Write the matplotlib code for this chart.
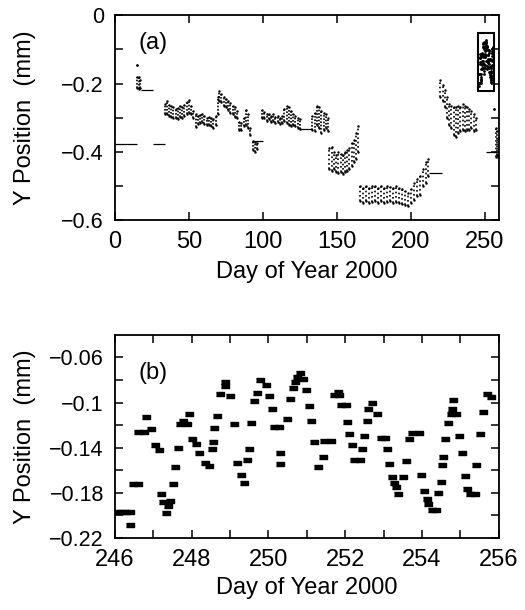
import numpy as np
import matplotlib
matplotlib.use('Agg')
import matplotlib.pyplot as plt
from matplotlib.patches import Rectangle
from matplotlib.ticker import MultipleLocator, FixedLocator

plt.rcParams['font.family'] = ['Liberation Sans', 'DejaVu Sans']
plt.rcParams['font.size'] = 17

# ---- panel (a): whole year, read as bands (day, upper edge, lower edge) ----
early_day = [15.2, 16.2, 17.2]
early_hi = [-0.180, -0.182, -0.190]
early_lo = [-0.212, -0.215, -0.213]
early_dot = (15.0, -0.146)

drift_day = [33.5, 35, 36.5, 38, 39.5, 41, 42.5, 44, 45.5, 47, 48.5, 50, 51.5, 53, 54.5,
             56, 57.5, 59, 60.5, 62, 63.5, 65, 66.5, 68, 69.5, 70.5, 72, 73.5, 75, 76.5,
             78, 79.5, 81, 82.5, 84, 85.5, 87, 88.5, 90, 91.5, 93, 94.5, 96,
             99.5, 101, 102.5, 104, 105.5, 107, 108.5, 110, 111.5, 113, 114.5, 116,
             117.5, 119, 120.5, 122, 123.5, 125,
             133.5, 135, 136.5, 138, 139.5, 141, 142.5, 144]
drift_hi = [-0.260, -0.250, -0.263, -0.265, -0.270, -0.275, -0.272, -0.265, -0.270, -0.262,
            -0.255, -0.248, -0.265, -0.280, -0.290, -0.295, -0.293, -0.290, -0.295, -0.300,
            -0.298, -0.300, -0.305, -0.295, -0.240, -0.222, -0.230, -0.238, -0.245, -0.250,
            -0.258, -0.265, -0.270, -0.280, -0.312, -0.315, -0.300, -0.278, -0.290, -0.330,
            -0.368, -0.370, -0.375,
            -0.278, -0.282, -0.290, -0.288, -0.295, -0.290, -0.298, -0.295, -0.300, -0.295,
            -0.275, -0.265, -0.270, -0.280, -0.290, -0.295, -0.300, -0.305,
            -0.295, -0.285, -0.265, -0.270, -0.280, -0.285, -0.290, -0.300]
drift_lo = [-0.290, -0.290, -0.295, -0.298, -0.300, -0.302, -0.305, -0.298, -0.300, -0.295,
            -0.290, -0.285, -0.290, -0.300, -0.327, -0.318, -0.315, -0.312, -0.318, -0.320,
            -0.322, -0.325, -0.330, -0.320, -0.290, -0.250, -0.255, -0.265, -0.270, -0.278,
            -0.285, -0.290, -0.298, -0.300, -0.335, -0.337, -0.325, -0.320, -0.330, -0.352,
            -0.395, -0.400, -0.392,
            -0.300, -0.302, -0.310, -0.305, -0.312, -0.310, -0.315, -0.312, -0.318, -0.315,
            -0.310, -0.315, -0.320, -0.325, -0.320, -0.325, -0.330, -0.332,
            -0.335, -0.340, -0.320, -0.330, -0.345, -0.335, -0.330, -0.340]

dip_day = [145, 146.5, 148, 149.5, 151, 152.5, 154, 155.5, 157, 158.5, 160, 161.5, 163, 164.5]
dip_hi = [-0.390, -0.385, -0.400, -0.410, -0.400, -0.405, -0.410, -0.400, -0.395, -0.390,
          -0.375, -0.365, -0.345, -0.325]
dip_lo = [-0.450, -0.455, -0.450, -0.460, -0.462, -0.460, -0.465, -0.458, -0.455, -0.450,
          -0.440, -0.430, -0.420, -0.400]

low_day = [166, 168, 170, 172, 174, 176, 178, 180, 182, 184, 186, 188, 190, 192, 194, 196,
           198, 200, 202, 204, 206, 208, 210, 211.5]
low_hi = [-0.500, -0.505, -0.500, -0.505, -0.500, -0.500, -0.505, -0.500, -0.505, -0.500,
          -0.502, -0.505, -0.500, -0.505, -0.510, -0.515, -0.520, -0.510, -0.490, -0.480,
          -0.470, -0.450, -0.430, -0.420]
low_lo = [-0.545, -0.550, -0.545, -0.550, -0.548, -0.545, -0.550, -0.545, -0.550, -0.548,
          -0.545, -0.550, -0.548, -0.550, -0.552, -0.555, -0.558, -0.550, -0.540, -0.530,
          -0.525, -0.500, -0.490, -0.470]

rise_day = [220, 221.5, 223, 224.5, 226, 227.5, 229, 230.5, 232, 233.5, 235, 236.5, 238,
            239.5, 241, 242.5, 244]
rise_hi = [-0.190, -0.205, -0.220, -0.240, -0.260, -0.265, -0.270, -0.270, -0.265, -0.270,
           -0.260, -0.265, -0.270, -0.275, -0.280, -0.290, -0.300]
rise_lo = [-0.240, -0.250, -0.270, -0.300, -0.320, -0.330, -0.350, -0.355, -0.345, -0.340,
           -0.335, -0.340, -0.335, -0.335, -0.330, -0.340, -0.335]

tail_day = [257.5, 258.5, 259.3]
tail_hi = [-0.330, -0.340, -0.360]
tail_lo = [-0.415, -0.410, -0.415]
tail_dot = (256.5, -0.273)

# horizontal gap lines: start day, end day, value
gap_start = [0, 25.6, 17.7, 93.5, 125, 212, 251]
gap_end = [15, 33.5, 25.6, 99.8, 133.5, 221, 257.5]
gap_val = [-0.376, -0.376, -0.2175, -0.367, -0.333, -0.463, -0.400]

# ---- panel (b): days 246-256 ----
b_day = [246.05, 246.15, 246.25, 246.38, 246.39, 246.47, 246.6, 246.6, 246.76, 246.82,
         246.94, 247.04, 247.15, 247.2, 247.26, 247.32, 247.39, 247.43, 247.5, 247.56,
         247.63, 247.7, 247.88, 247.78, 247.94, 248.02, 248.1, 248.2, 248.34, 248.46,
         248.52, 248.56, 248.59, 248.67, 248.73, 248.86, 248.86, 248.99, 249.1, 249.19,
         249.28, 249.36, 249.43, 249.48, 249.55, 249.62, 249.69, 249.79, 249.93, 250.02,
         250.09, 250.15, 250.27, 250.31, 250.31, 250.47, 250.57, 250.63, 250.69, 250.75,
         250.82, 250.9, 250.99, 251.06, 251.11, 251.18, 251.3,
         251.42, 251.45, 251.62, 251.72, 251.85, 251.8, 251.9, 252.02, 252.04, 252.11,
         252.18, 252.24, 252.38, 252.44, 252.5, 252.56, 252.6, 252.71, 252.83, 252.92,
         253.03, 253.08, 253.15, 253.23, 253.28, 253.32, 253.38, 253.51, 253.58, 253.67,
         253.75, 253.92, 253.97, 254.06, 254.12, 254.15, 254.26, 254.37, 254.43, 254.49,
         254.53, 254.55, 254.6, 254.68, 254.75, 254.88, 254.77, 254.8, 254.97, 255.03,
         255.12, 255.18, 255.26, 255.37, 255.42, 255.51, 255.6, 255.7, 255.8]
b_val = [-0.197, -0.197, -0.197, -0.197, -0.2085, -0.1718, -0.1718, -0.1259, -0.1259, -0.1126,
         -0.123, -0.138, -0.142, -0.1806, -0.1885, -0.198, -0.192, -0.187, -0.1718, -0.157,
         -0.140, -0.1188, -0.1188, -0.1159, -0.1097, -0.1326, -0.137, -0.145, -0.1538, -0.156,
         -0.141, -0.1347, -0.1224, -0.112, -0.092, -0.0856, -0.082, -0.0938, -0.119, -0.1538,
         -0.164, -0.171, -0.151, -0.1415, -0.118, -0.0988, -0.0915, -0.0797, -0.0841, -0.0938,
         -0.1056, -0.1215, -0.1215, -0.1444, -0.1547, -0.1144, -0.0965, -0.0871, -0.082, -0.0774,
         -0.0738, -0.079, -0.0891, -0.1026, -0.1165, -0.135, -0.157,
         -0.148, -0.134, -0.134, -0.093, -0.093, -0.0905, -0.1024, -0.1024, -0.117, -0.128,
         -0.138, -0.151, -0.151, -0.141, -0.130, -0.116, -0.1056, -0.1003, -0.110, -0.131,
         -0.131, -0.1415, -0.1547, -0.1656, -0.171, -0.175, -0.1812, -0.1656, -0.152, -0.132,
         -0.1268, -0.1268, -0.164, -0.178, -0.1856, -0.19, -0.195, -0.195, -0.18, -0.170,
         -0.1556, -0.148, -0.1326, -0.118, -0.1097, -0.1097, -0.1056, -0.098, -0.130, -0.145,
         -0.165, -0.177, -0.1806, -0.1806, -0.1556, -0.128, -0.1082, -0.092, -0.095]

fig = plt.figure(figsize=(5.25, 6.1), dpi=100)
ax1 = fig.add_axes([0.219, 0.639, 0.731, 0.336])
ax2 = fig.add_axes([0.219, 0.118, 0.731, 0.333])

# thin trace drawn dense, the wide clouds a bit more speckled
bands = [(early_day, early_hi, early_lo, (1, 1)), (drift_day, drift_hi, drift_lo, (1, 1)),
         (dip_day, dip_hi, dip_lo, (1, 1.6)), (low_day, low_hi, low_lo, (1, 1.6)),
         (rise_day, rise_hi, rise_lo, (1, 1.6)), (tail_day, tail_hi, tail_lo, (1, 1.3))]
for d, hi, lo, dash in bands:
    ax1.vlines(d, lo, hi, colors='black', linestyles=(0, dash), linewidth=1.2)
    ax1.plot(d, hi, 'k.', ms=1.5)
    ax1.plot(d, lo, 'k.', ms=1.5)
ax1.plot(*early_dot, 'k.', ms=2)
ax1.plot(*tail_dot, 'k.', ms=2)
ax1.hlines(gap_val, gap_start, gap_end, colors='black', linewidth=0.9)
ax1.plot(b_day, b_val, 'k.', ms=2)
ax1.add_patch(Rectangle((245.5, -0.222), 11.0, 0.170, fill=False, lw=1.5, ec='black'))

ax1.set_xlim(0, 259.5)
ax1.set_ylim(-0.6, 0)
ax1.xaxis.set_major_locator(MultipleLocator(50))
ax1.set_yticks([-0.6, -0.4, -0.2, 0])
ax1.set_yticklabels(['\u22120.6', '\u22120.4', '\u22120.2', '0'])
ax1.yaxis.set_minor_locator(MultipleLocator(0.1))
ax1.set_xlabel('Day of Year 2000')
ax1.set_ylabel('Y Position  (mm)')
ax1.xaxis.set_label_coords(0.5, -0.2)
ax1.yaxis.set_label_coords(-0.205, 0.5)
ax1.text(0.06, 0.866, '(a)', transform=ax1.transAxes, fontsize=17, va='center')

# markers for panel (b): short horizontal bars
bar = [(-1, -0.4), (1, -0.4), (1, 0.4), (-1, 0.4)]
ax2.plot(b_day, b_val, ls='none', marker=bar, ms=5.5, color='black', mec='black')
ax2.set_xlim(246, 256)
ax2.set_ylim(-0.22, -0.04)
ax2.xaxis.set_major_locator(MultipleLocator(2))
ax2.xaxis.set_minor_locator(MultipleLocator(1))
ax2.set_yticks([-0.22, -0.18, -0.14, -0.1, -0.06])
ax2.set_yticklabels(['\u22120.22', '\u22120.18', '\u22120.14', '\u22120.1', '\u22120.06'])
ax2.yaxis.set_minor_locator(FixedLocator([-0.2, -0.16, -0.12, -0.08]))
ax2.set_xlabel('Day of Year 2000')
ax2.set_ylabel('Y Position  (mm)')
ax2.xaxis.set_label_coords(0.5, -0.19)
ax2.yaxis.set_label_coords(-0.205, 0.5)
ax2.text(0.06, 0.81, '(b)', transform=ax2.transAxes, fontsize=17, va='center')

for ax in (ax1, ax2):
    ax.tick_params(which='both', direction='in', top=True, right=True)
    ax.tick_params(axis='x', which='both', labelsize=17, pad=8)
    ax.tick_params(axis='y', which='both', labelsize=15.5, pad=8)
    ax.tick_params(which='both', length=6, width=1.1)
    for s in ax.spines.values():
        s.set_linewidth(1.3)

fig.savefig('out.png', dpi=100)
